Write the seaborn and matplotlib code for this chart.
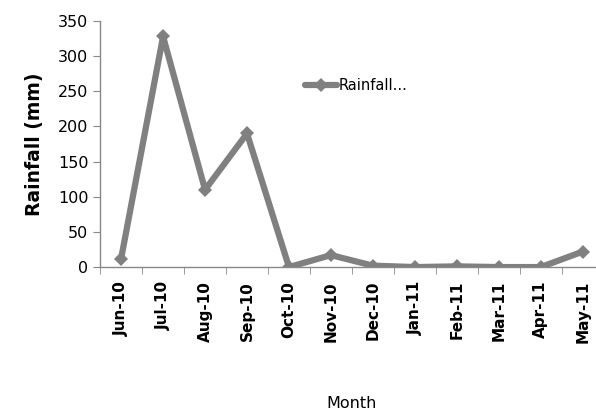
import pandas as pd
import numpy as np
import matplotlib
matplotlib.use("Agg")
import matplotlib.pyplot as plt
import seaborn as sns
from matplotlib.ticker import FixedLocator

months = ['Jun-10', 'Jul-10', 'Aug-10', 'Sep-10', 'Oct-10', 'Nov-10',
          'Dec-10', 'Jan-11', 'Feb-11', 'Mar-11', 'Apr-11', 'May-11']
rainfall = [12, 328, 110, 190, 0, 17, 2, 0, 1, 0, 0, 22]
y_ticks = [0, 50, 100, 150, 200, 250, 300, 350]

df = pd.DataFrame({'Month': months, 'Rainfall': rainfall, 'pos': np.arange(len(months))})

sns.set_style("white")
plt.rcParams['font.family'] = ['DejaVu Sans']

fig = plt.figure(figsize=(5.96, 4.16), dpi=100)
ax = fig.add_axes([0.168, 0.358, 0.845, 0.5915])

sns.lineplot(data=df, x='pos', y='Rainfall', ax=ax, color='#808080', linewidth=4.5,
             marker='D', markersize=7, markeredgewidth=0, label='Rainfall...')

ax.set_xlim(-0.5, len(months) - 0.5)
ax.set_ylim(0, 350)
ax.set_yticks(y_ticks)
ax.set_yticklabels([str(v) for v in y_ticks], fontsize=11.5, color='black')
ax.set_xticks(df['pos'])
ax.set_xticklabels(months, rotation=90, fontsize=11, fontweight='bold', color='black')
ax.xaxis.set_minor_locator(FixedLocator(np.arange(-0.5, len(months), 1.0)))
ax.tick_params(axis='x', which='major', length=0, pad=10)
ax.tick_params(axis='x', which='minor', length=5, color='#888888', bottom=True)
ax.tick_params(axis='y', length=5, color='#888888', left=True)

for s in ['top', 'right']:
    ax.spines[s].set_visible(False)
for s in ['left', 'bottom']:
    ax.spines[s].set_color('#888888')
    ax.spines[s].set_linewidth(1)

ax.set_ylabel('Rainfall (mm)', fontsize=13.5, fontweight='bold', labelpad=10, color='black')
ax.set_xlabel('Month', fontsize=11.5, labelpad=38, color='black')

ax.legend(loc='upper left', bbox_to_anchor=(0.38, 0.82), frameon=False, fontsize=10.5,
          handlelength=2.2, handletextpad=0.1, labelcolor='black')

plt.savefig('out.png', dpi=100)
plt.close()
